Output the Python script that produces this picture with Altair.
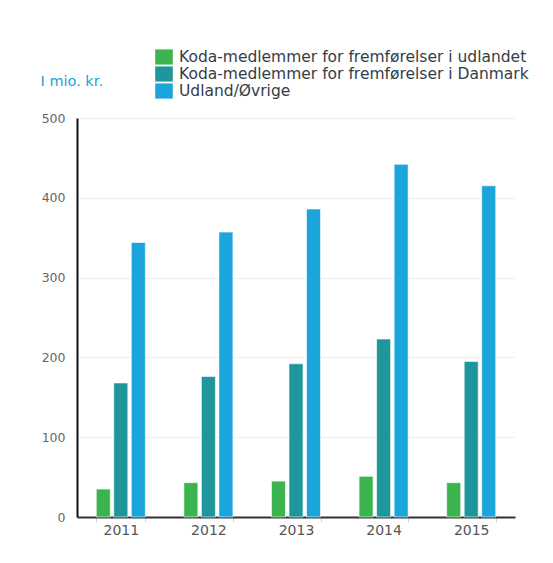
import altair as alt
import pandas as pd

years = ["2011", "2012", "2013", "2014", "2015"]
series = [
    "Koda-medlemmer for fremførelser i udlandet",
    "Koda-medlemmer for fremførelser i Danmark",
    "Udland/Øvrige",
]
udlandet = [35, 43, 45, 51, 43]
danmark = [168, 176, 192, 223, 195]
oevrige = [344, 357, 386, 442, 415]
colors = ["#3BB450", "#1E969B", "#1BA5DA"]

rows = []
for i, y in enumerate(years):
    for s, vals in zip(series, [udlandet, danmark, oevrige]):
        rows.append({"year": y, "serie": s, "value": vals[i]})
df = pd.DataFrame(rows)

chart = (
    alt.Chart(df)
    .mark_bar(stroke="white", strokeWidth=1, strokeOpacity=0.6)
    .encode(
        x=alt.X(
            "year:N",
            sort=years,
            title=None,
            scale=alt.Scale(paddingInner=0.44, paddingOuter=0.22),
            axis=alt.Axis(
                labelAngle=0,
                labelFontSize=14,
                labelColor="#555555",
                labelFont="DejaVu Sans",
                labelPadding=1,
                tickBand="extent",
                tickColor="#ccd6eb",
                tickSize=5,
                domainColor="#333333",
                domainWidth=2,
                grid=False,
            ),
        ),
        xOffset=alt.XOffset(
            "serie:N", sort=series, scale=alt.Scale(paddingInner=0.2, paddingOuter=0)
        ),
        y=alt.Y(
            "value:Q",
            scale=alt.Scale(domain=[0, 500]),
            axis=alt.Axis(
                values=[0, 100, 200, 300, 400, 500],
                title="I mio. kr.",
                titleAngle=0,
                titleX=-37,
                titleY=-33,
                titleAlign="left",
                titleBaseline="alphabetic",
                titleColor="#1BA3DA",
                titleFont="DejaVu Sans",
                titleFontSize=14.5,
                titleFontWeight="normal",
                labelFontSize=12.5,
                labelColor="#666666",
                labelFont="DejaVu Sans",
                labelPadding=12,
                ticks=False,
                domainColor="#111111",
                domainWidth=2,
                gridColor="#eeeeee",
                gridWidth=1,
            ),
        ),
        color=alt.Color(
            "serie:N",
            sort=series,
            scale=alt.Scale(domain=series, range=colors),
            legend=alt.Legend(
                title=None,
                orient="none",
                legendX=79,
                legendY=-69,
                symbolType="M-1.1,-0.95H1.1V0.95H-1.1Z",
                symbolSize=256,
                symbolStrokeWidth=0,
                symbolOpacity=1,
                labelFontSize=15.5,
                labelFont="DejaVu Sans",
                labelColor="#333e48",
                labelOffset=7,
                rowPadding=0,
                labelLimit=500,
            ),
        ),
    )
    .properties(
        width=438,
        height=399,
        autosize=alt.AutoSizeParams(type="none"),
        padding={"left": 69, "top": 110, "right": 30, "bottom": 38},
    )
    .configure_view(stroke=None)
)

chart.save("out.html", embed_options={"renderer": "svg", "actions": False})
